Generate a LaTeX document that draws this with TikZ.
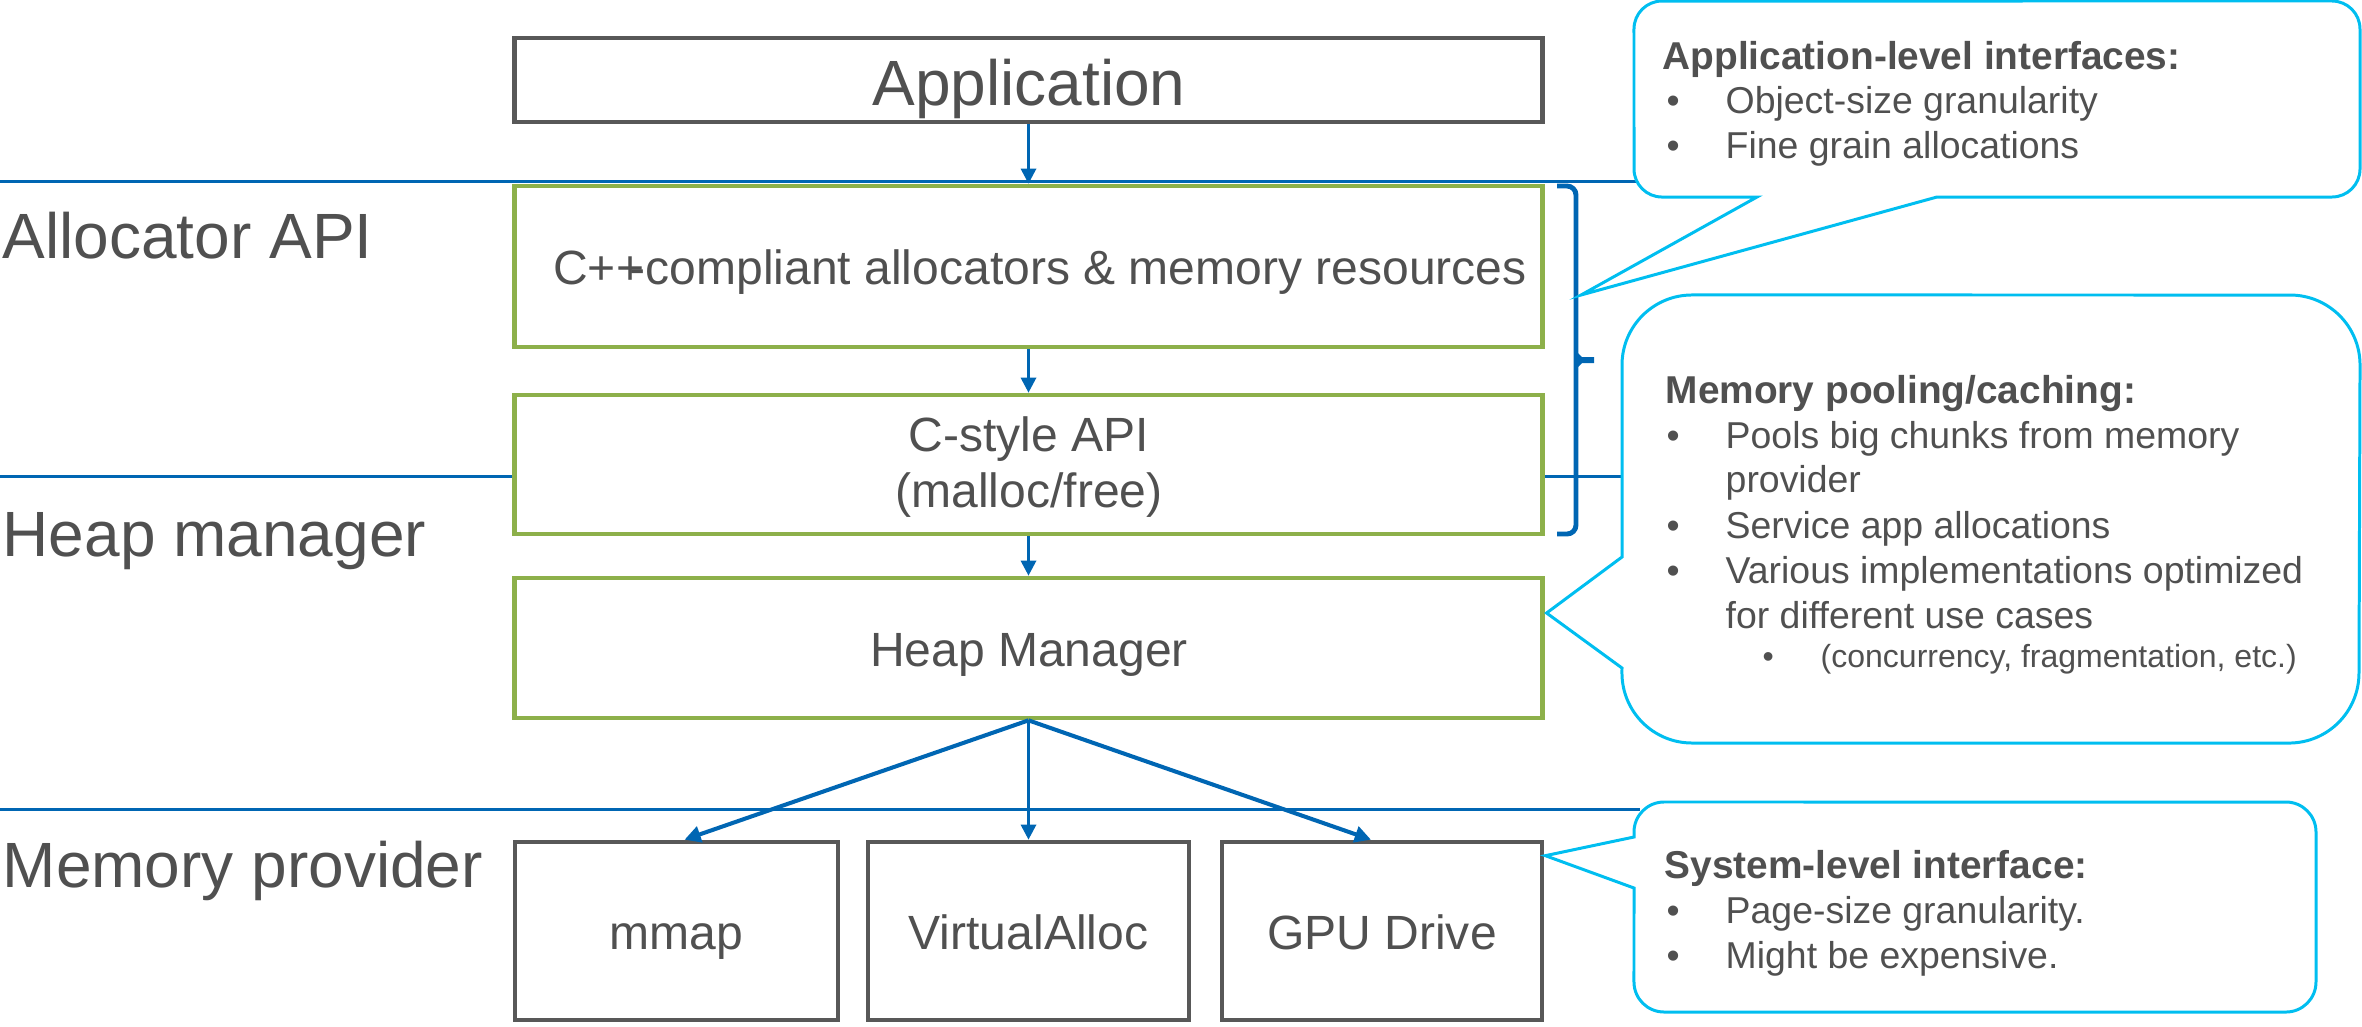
\documentclass[tikz,border=0pt]{standalone}
\usepackage{fontspec}
\setmainfont{Liberation Sans}
\usetikzlibrary{arrows.meta,calc}
\definecolor{txtgray}{RGB}{80,80,80}
\definecolor{boxgray}{RGB}{88,88,88}
\definecolor{leafgreen}{RGB}{141,176,74}
\definecolor{layerblue}{RGB}{0,102,179}
\definecolor{calloutcyan}{RGB}{0,190,240}

\begin{document}
\begin{tikzpicture}[x=0.01cm,y=-0.01cm,
  layerlabel/.style={anchor=base west,inner sep=0pt,text=txtgray,font=\fontsize{18.2}{22}\selectfont},
  boxlabel/.style={anchor=base,inner sep=0pt,text=txtgray,font=\fontsize{13.66}{16}\selectfont},
  bigboxlabel/.style={anchor=base,inner sep=0pt,text=txtgray,font=\fontsize{18.2}{22}\selectfont},
  plainbox/.style={rectangle,draw=boxgray,line width=1.3pt,fill=white,inner sep=0pt},
  stagebox/.style={rectangle,draw=leafgreen,line width=1.3pt,fill=white,inner sep=0pt},
  divider/.style={draw=layerblue,line width=0.85pt},
  flow/.style={draw=layerblue,line width=0.85pt,-{Triangle[length=4.3pt,width=4.3pt]}},
  flowwide/.style={draw=layerblue,line width=1.15pt,-{Triangle[length=4.6pt,width=4.6pt]}},
  bracket/.style={draw=layerblue,line width=1.4pt},
  balloon/.style={draw=calloutcyan,line width=0.85pt,fill=white,line join=miter},
  heading/.style={anchor=base west,inner sep=0pt,text=txtgray,font=\bfseries\fontsize{11.04}{13}\selectfont},
  itemtext/.style={anchor=base west,inner sep=0pt,text=txtgray,font=\fontsize{10.64}{13}\selectfont},
  subtext/.style={anchor=base west,inner sep=0pt,text=txtgray,font=\fontsize{9.1}{11}\selectfont}]

\useasboundingbox (0,0) rectangle (2362,1026);

% layer dividers
\draw[divider] (0,181) -- (1640,181);
\draw[divider] (0,476) -- (1625,476);
\draw[divider] (0,809) -- (1640,809);

% layer names
\node[layerlabel] (lblalloc) at (2,258) {Allocator API};
\node[layerlabel] (lblheap) at (2,556) {Heap manager};
\node[layerlabel] (lblprov) at (2,887) {Memory provider};

% stack of components
\node[plainbox,minimum width=10.27cm,minimum height=0.84cm] (app) at (1028.5,80) {};
\node[stagebox,minimum width=10.27cm,minimum height=1.61cm] (cpp) at (1028.5,266.5) {};
\node[stagebox,minimum width=10.27cm,minimum height=1.39cm] (capi) at (1028.5,464.5) {};
\node[stagebox,minimum width=10.27cm,minimum height=1.40cm] (heap) at (1028.5,648) {};
\node[plainbox,minimum width=3.23cm,minimum height=1.78cm] (mmap) at (676.5,931) {};
\node[plainbox,minimum width=3.21cm,minimum height=1.78cm] (valloc) at (1028.5,931) {};
\node[plainbox,minimum width=3.20cm,minimum height=1.78cm] (gpu) at (1382,931) {};

\node[bigboxlabel] (apptxt) at (1029,105) {Application};
\node[boxlabel] (cpptxt) at (1040,284) {C++\kern-0.3em-compliant allocators \& memory resources};
\node[boxlabel] (capitxt1) at (1029,451) {C-style API};
\node[boxlabel] (capitxt2) at (1029,507) {(malloc/free)};
\node[boxlabel] (heaptxt) at (1029,666) {Heap Manager};
\node[boxlabel] (mmaptxt) at (676.5,949) {mmap};
\node[boxlabel] (valloctxt) at (1028.5,949) {VirtualAlloc};
\node[boxlabel] (gputxt) at (1382,949) {GPU Drive};

% call flow
\draw[flow] (app.south) -- (cpp.north);
\draw[flow] (cpp.south) -- (capi.north);
\draw[flow] (capi.south) -- (heap.north);
\draw[flowwide] (heap.south) -- ($(mmap.north)+(8,0)$);
\draw[flow] (heap.south) -- (valloc.north);
\draw[flowwide] (heap.south) -- ($(gpu.north)+(-11,0)$);

% bracket grouping the allocator API boxes
\draw[bracket] (1557,186) -- (1567,186) to[out=0,in=90] (1576,195) -- (1576,525) to[out=-90,in=0] (1567,534) -- (1557,534);
\fill[layerblue] (1575,350) -- (1582,357) -- (1594,357) -- (1594,363) -- (1582,363) -- (1575,370) -- cycle;

% pointer targets
\coordinate (tipA) at (1581,295);
\coordinate (tipB) at ($(heap.east)+(2,-35)$);
\coordinate (tipC) at ($(gpu.north east)+(1,16)$);

% callout: application-level interfaces
\draw[balloon] (1757,197) -- (tipA) -- (1937,197) -- (2332,197)
  arc[start angle=-90,end angle=0,radius=0.28cm] -- (2360,29)
  arc[start angle=0,end angle=90,radius=0.28cm] -- (1662,1)
  arc[start angle=90,end angle=180,radius=0.28cm] -- (1634,169)
  arc[start angle=180,end angle=270,radius=0.28cm] -- cycle;
\node[heading] (h1) at (1662,69) {Application-level interfaces:};
\node[itemtext] (b1a) at (1666,113) {•};
\node[itemtext] (t1a) at (1725,113) {Object-size granularity};
\node[itemtext] (b1b) at (1666,158) {•};
\node[itemtext] (t1b) at (1725,158) {Fine grain allocations};

% callout: memory pooling
\draw[balloon] (1622,668) -- (tipB) -- (1622,557) -- (1622,365)
  arc[start angle=180,end angle=90,radius=0.7cm] -- (2290,295)
  arc[start angle=90,end angle=0,radius=0.7cm] -- (2359,673)
  arc[start angle=0,end angle=-90,radius=0.7cm] -- (1692,743)
  arc[start angle=-90,end angle=-180,radius=0.7cm] -- cycle;
\node[heading] (h2) at (1665,403) {Memory pooling/caching:};
\node[itemtext] (b2a) at (1666,448) {•};
\node[itemtext] (t2a) at (1725,448) {Pools big chunks from memory};
\node[itemtext] (t2a2) at (1725,492) {provider};
\node[itemtext] (b2b) at (1666,538) {•};
\node[itemtext] (t2b) at (1725,538) {Service app allocations};
\node[itemtext] (b2c) at (1666,583) {•};
\node[itemtext] (t2c) at (1725,583) {Various implementations optimized};
\node[itemtext] (t2c2) at (1725,628) {for different use cases};
\node[subtext] (b2d) at (1762,667) {•};
\node[subtext] (t2d) at (1820,667) {(concurrency, fragmentation, etc.)};

% callout: system-level interface
\draw[balloon] (1634,888) -- (tipC) -- (1634,837) -- (1634,832)
  arc[start angle=180,end angle=90,radius=0.3cm] -- (2286,802)
  arc[start angle=90,end angle=0,radius=0.3cm] -- (2316,982)
  arc[start angle=0,end angle=-90,radius=0.3cm] -- (1664,1012)
  arc[start angle=-90,end angle=-180,radius=0.3cm] -- cycle;
\node[heading] (h3) at (1664,878) {System-level interface:};
\node[itemtext] (b3a) at (1666,923) {•};
\node[itemtext] (t3a) at (1725,923) {Page-size granularity.};
\node[itemtext] (b3b) at (1666,968) {•};
\node[itemtext] (t3b) at (1725,968) {Might be expensive.};
\end{tikzpicture}
\end{document}
